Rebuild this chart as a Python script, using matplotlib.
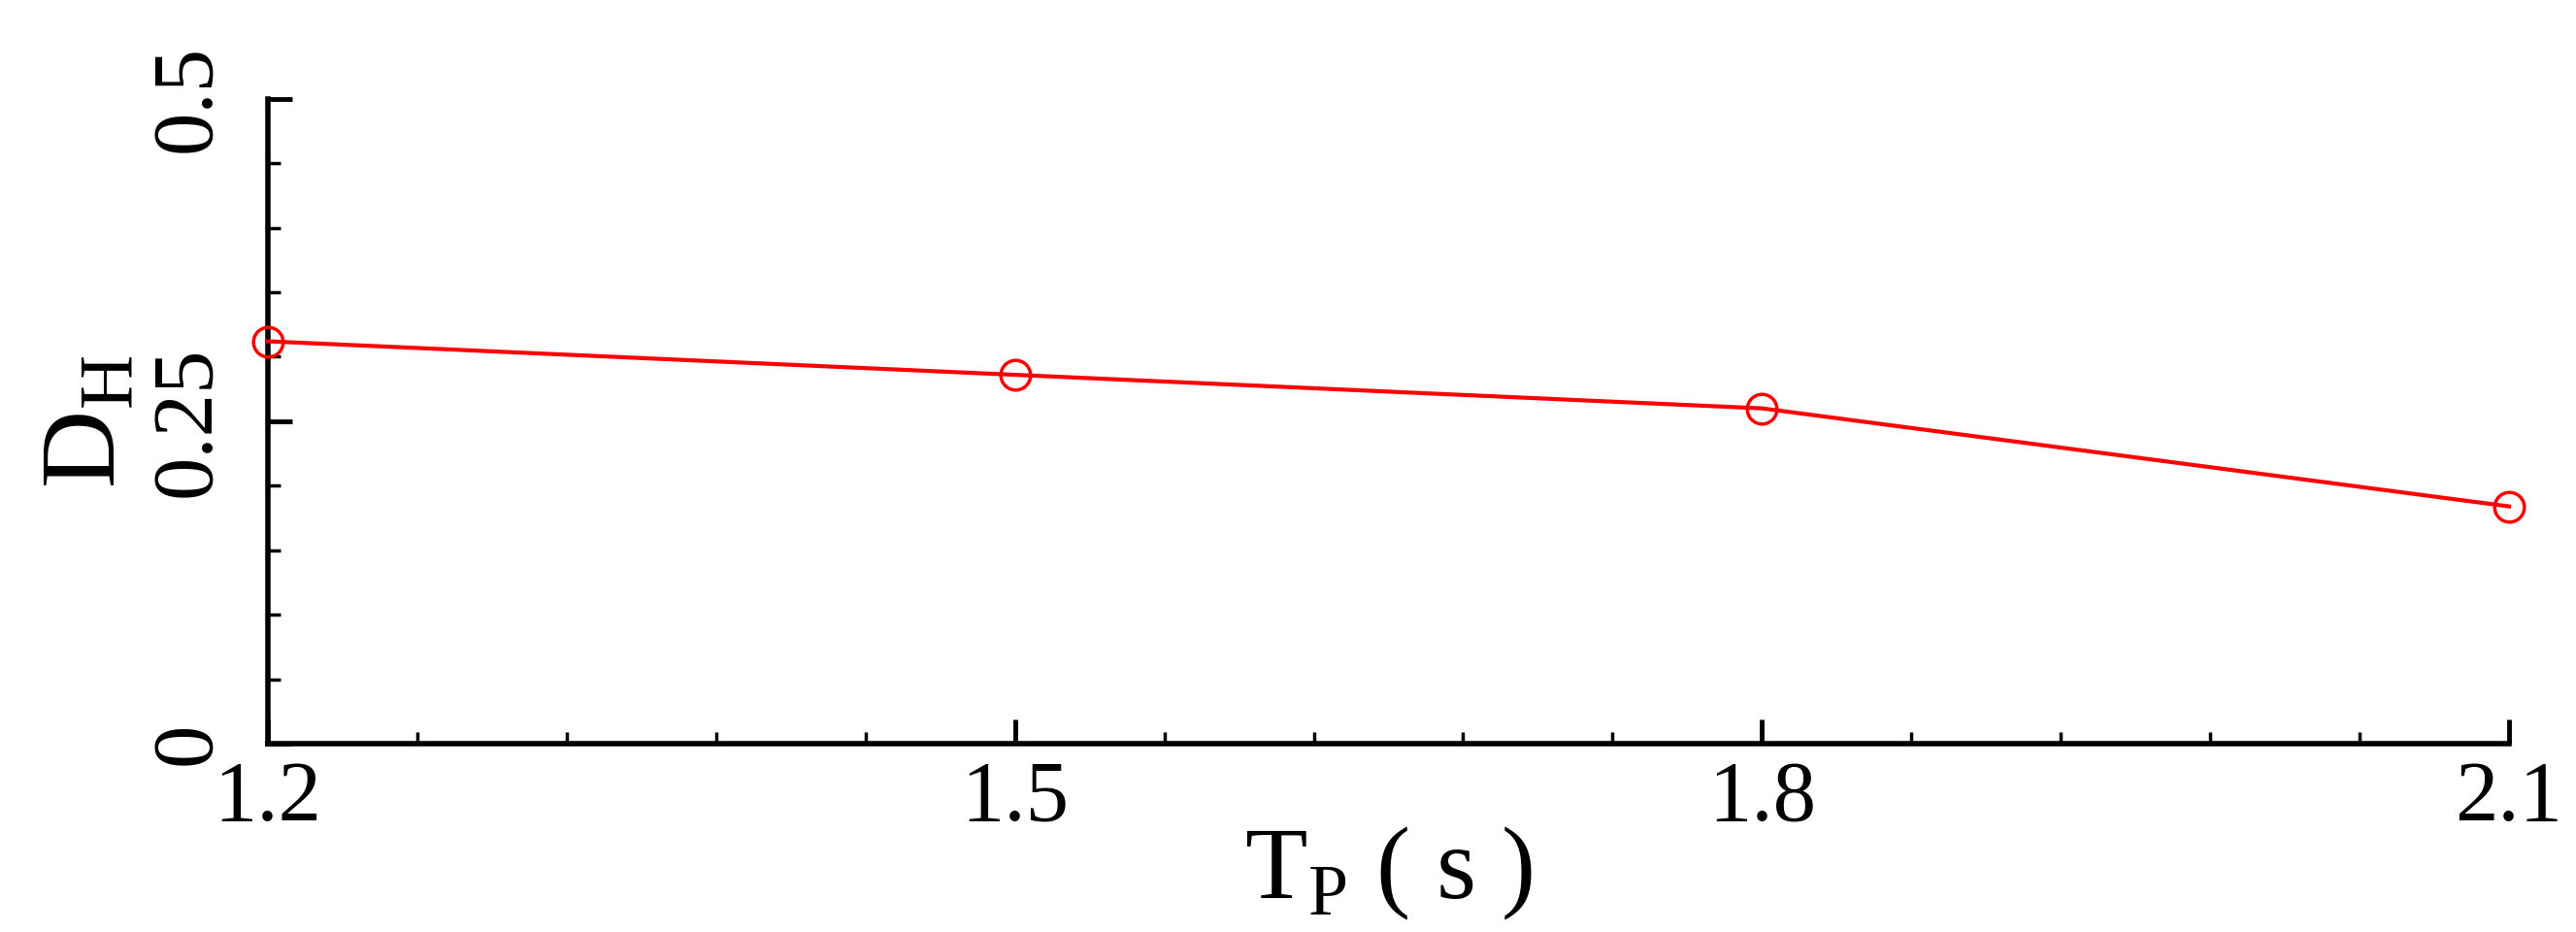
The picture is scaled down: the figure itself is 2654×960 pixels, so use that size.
import numpy as np
import matplotlib
matplotlib.use("Agg")
import matplotlib.pyplot as plt
from matplotlib.ticker import MultipleLocator

# data
tp = [1.2, 1.5, 1.8, 2.1]
dh = [0.312, 0.286, 0.260, 0.184]
x_ticks = [1.2, 1.5, 1.8, 2.1]
y_ticks = [0, 0.25, 0.5]
y_tick_labels = ["0", "0.25", "0.5"]

plt.rcParams['font.family'] = ['Liberation Serif', 'DejaVu Serif']
plt.rcParams['mathtext.fontset'] = 'custom'
plt.rcParams['mathtext.rm'] = 'Liberation Serif'

fig = plt.figure(figsize=(26.54, 9.6), dpi=100, facecolor='white')
ax = fig.add_axes([0.104, 0.202, 0.870, 0.692])

ax.plot(tp, dh, color='red', linewidth=3, marker='o', markersize=22,
        markerfacecolor='none', markeredgecolor='red', markeredgewidth=2.5,
        clip_on=False, zorder=3)

ax.set_xlim(1.2, 2.1)
ax.set_ylim(0, 0.5)
ax.spines['top'].set_visible(False)
ax.spines['right'].set_visible(False)
for s in ('left', 'bottom'):
    ax.spines[s].set_linewidth(4)

ax.set_xticks(x_ticks)
ax.set_xticklabels([f"{v:.1f}" for v in x_ticks])
ax.xaxis.set_minor_locator(MultipleLocator(0.06))
ax.set_yticks(y_ticks)
ax.set_yticklabels(y_tick_labels, rotation=90, va='center')
ax.yaxis.set_minor_locator(MultipleLocator(0.05))

ax.tick_params(which='major', direction='in', length=18, width=3.5, labelsize=64)
ax.tick_params(which='minor', direction='in', length=9, width=2.5)
ax.tick_params(axis='x', which='major', pad=12)
ax.tick_params(axis='y', which='major', pad=30)

ax.set_xlabel(r'T$_{\mathregular{P}}$ ( s )', fontsize=76, labelpad=-10)
ax.set_ylabel(r'D$_{\mathregular{H}}$', fontsize=80, labelpad=8)

fig.savefig('out.png', dpi=100, facecolor='white')
